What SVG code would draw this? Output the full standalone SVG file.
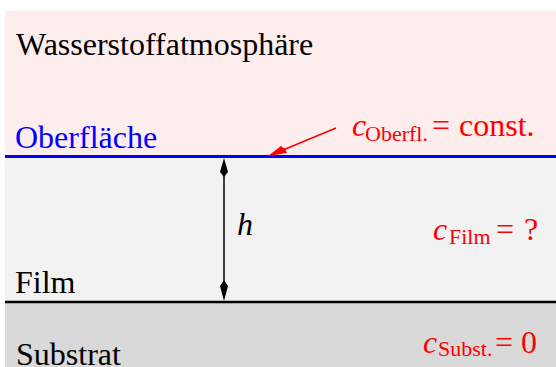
<svg xmlns="http://www.w3.org/2000/svg" width="556" height="367" viewBox="0 0 556 367">
<style>
text{font-family:"Liberation Serif","Times New Roman",serif;font-size:32px}
.r{fill:#ff0000}
.sub{font-size:22px}
.i{font-style:italic}
</style>
<rect x="0" y="0" width="556" height="367" fill="#ffffff"/>
<g id="atmosphere">
<rect x="5" y="10.5" width="551" height="146" fill="#fdeded"/>
<text x="16" y="55">Wasserstoffatmosphäre</text>
</g>
<g id="film">
<rect x="5" y="156.5" width="551" height="145.5" fill="#f2f2f2"/>
<text x="15" y="293">Film</text>
<text x="433" y="240" class="r"><tspan class="i">c</tspan><tspan class="sub" x="449" y="244">Film</tspan><tspan x="496" y="240">=</tspan><tspan x="524" y="240">?</tspan></text>
</g>
<g id="substrate">
<rect x="5" y="302" width="551" height="65" fill="#d9d9d9"/>
<text x="16" y="365">Substrat</text>
<text x="423" y="353" class="r"><tspan class="i">c</tspan><tspan class="sub" x="438" y="356">Subst.</tspan><tspan x="495" y="353">=</tspan><tspan x="521" y="353">0</tspan></text>
</g>
<g id="surface">
<line x1="5" y1="156.5" x2="556" y2="156.5" stroke="#0000ff" stroke-width="3"/>
<text x="15" y="147.5" fill="#0000ff">Oberfläche</text>
<text x="352" y="136" class="r"><tspan class="i">c</tspan><tspan class="sub" x="365" y="141">Oberfl.</tspan><tspan x="432" y="136">=</tspan><tspan x="459" y="136">const.</tspan></text>
</g>
<g id="interface">
<line x1="5" y1="302" x2="556" y2="302" stroke="#000000" stroke-width="2.5"/>
</g>
<g id="connectors">
<line x1="224" y1="165" x2="224" y2="294" stroke="#000" stroke-width="1.5"/>
<path d="M224,158 L228,172 L224,177 L220,172 Z" fill="#000"/>
<path d="M224,301 L228,286 L224,280 L220,286 Z" fill="#000"/>
<line x1="336" y1="128" x2="283" y2="150" stroke="#ff0000" stroke-width="1.5"/>
<path d="M268,156 L281,146 L285,149 L287,153 Z" fill="#ff0000"/>
<text x="237" y="235" class="i">h</text>
</g>
</svg>
